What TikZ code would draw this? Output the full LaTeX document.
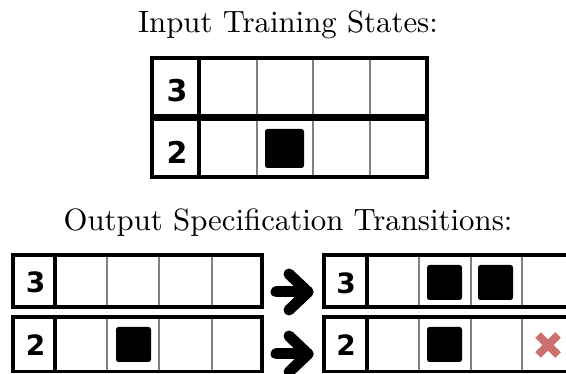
\documentclass[tikz,border=0pt]{standalone}
\usepackage{fontspec}
\newfontfamily\numfont{DejaVu Sans}
\definecolor{crossred}{RGB}{206,112,112}
\begin{document}
\begin{tikzpicture}[x=1pt,y=-1pt,
  rowbox/.style={draw=black,line width=3.5pt,inner sep=0pt,outer sep=0pt,rectangle},
  sepline/.style={draw=black,line width=3.5pt},
  cellline/.style={draw=black!50,line width=1.8pt},
  token/.style={fill=black,rounded corners=2.5pt,inner sep=0pt,minimum size=#1},
  numlabel/.style={font=\numfont\bfseries\fontsize{#1}{#1}\selectfont,inner sep=0pt},
  titletext/.style={scale=3.08,font=\fontsize{10}{12}\selectfont,inner sep=0pt,anchor=base},
  bigarrow/.style={draw=black,line width=11pt,line cap=round,line join=round},
  cross/.style={draw=crossred,line width=8pt}]
\useasboundingbox (0,0) rectangle (566,374);
\begin{scope}
\clip (0,0) rectangle (566,374);
% titles
\node[titletext] (title1) at (288,33) {Input Training States:};
\node[titletext] (title2) at (288,231) {Output Specification Transitions:};

% ---- input grid ----
\foreach \x in {257,313,370} \draw[cellline] (\x,58) -- (\x,177);
\draw[sepline] (199,58) -- (199,177);
\node[rowbox,minimum width=275pt,minimum height=58.25pt] (in3) at (289.5,87.125) {};
\node[rowbox,minimum width=275pt,minimum height=57.25pt] (in2) at (289.5,148.375) {};
\node[numlabel=30] (in3lab) at (177,91) {3};
\node[numlabel=30] (in2lab) at (177,152) {2};
\node[token=39pt] (intok) at (284.5,148.5) {};

% ---- output left grid ----
\foreach \x in {107,159,212} {
  \draw[cellline] (\x,255) -- (\x,307);
  \draw[cellline] (\x,317) -- (\x,371.5);
}
\draw[sepline] (55,255) -- (55,307);
\draw[sepline] (55,317) -- (55,371.5);
\node[rowbox,minimum width=249pt,minimum height=52pt] (l3) at (137.5,281) {};
\node[rowbox,minimum width=249pt,minimum height=54.5pt] (l2) at (137.5,344.25) {};
\node[numlabel=28] (l3lab) at (35.5,282.5) {3};
\node[numlabel=28] (l2lab) at (35.5,345) {2};
\node[token=35pt] (ltok) at (133.5,344.5) {};

% ---- output right grid ----
\foreach \x in {419,471,522} {
  \draw[cellline] (\x,255) -- (\x,307);
  \draw[cellline] (\x,317) -- (\x,371.5);
}
\draw[sepline] (367,255) -- (367,307);
\draw[sepline] (367,317) -- (367,371.5);
\node[rowbox,minimum width=250pt,minimum height=52pt] (r3) at (449,281) {};
\node[rowbox,minimum width=250pt,minimum height=54.5pt] (r2) at (449,344.25) {};
\node[numlabel=28] (r3lab) at (346,283) {3};
\node[numlabel=28] (r2lab) at (346,345) {2};
\node[token=35pt] (rtokA) at (444.5,282.5) {};
\node[token=35pt] (rtokB) at (495.5,282.5) {};
\node[token=35pt] (rtokC) at (444.5,344.5) {};
\draw[cross] (538,335) -- (558,355);
\draw[cross] (538,355) -- (558,335);

% ---- arrows ----
\draw[bigarrow] ([xshift=14pt,yshift=-11pt]l3.east) -- ([xshift=-16pt,yshift=-11pt]r3.west);
\draw[bigarrow] ([xshift=-35pt,yshift=7pt]r3.west) -- ([xshift=-16pt,yshift=-11pt]r3.west) -- ([xshift=-35pt,yshift=-29pt]r3.west);
\draw[bigarrow] ([xshift=14pt,yshift=-9.75pt]l2.east) -- ([xshift=-16pt,yshift=-9.75pt]r2.west);
\draw[bigarrow] ([xshift=-35pt,yshift=8.25pt]r2.west) -- ([xshift=-16pt,yshift=-9.75pt]r2.west) -- ([xshift=-35pt,yshift=-27.75pt]r2.west);
\end{scope}
\end{tikzpicture}
\end{document}
